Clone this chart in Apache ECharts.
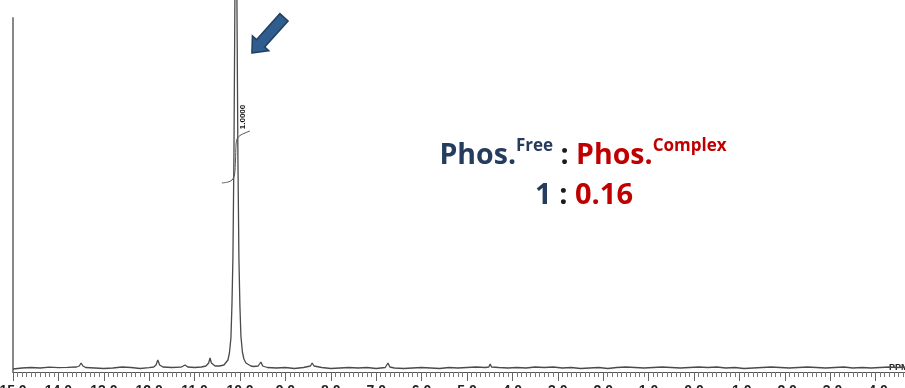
<!DOCTYPE html>
<html>
<head>
<meta charset="utf-8">
<script src="https://cdn.jsdelivr.net/npm/echarts@6/dist/echarts.min.js"></script>
<style>
  html, body { margin: 0; padding: 0; background: #fff; }
  #chart { width: 905px; height: 388px; }
</style>
</head>
<body>
<div id="chart"></div>
<script>
// 31P spectrum: chemical shift (ppm) and intensity (arbitrary units)
const ppmValues = [
  15.0, 14.8, 14.6, 14.4, 14.2, 14.0, 13.8, 13.6, 13.54, 13.50, 13.46, 13.4, 13.2, 13.0,
  12.8, 12.6, 12.4, 12.2, 12.0, 11.9, 11.85, 11.81, 11.77, 11.7, 11.5, 11.3, 11.21, 11.15,
  11.0, 10.85, 10.75, 10.69, 10.66, 10.63, 10.55, 10.45, 10.42,
  10.354, 10.31, 10.266, 10.233, 10.2, 10.178, 10.156, 10.134, 10.112, 10.09,
  10.068, 10.046, 10.024, 10.002, 9.98, 9.947, 9.914, 9.87, 9.826, 9.76,
  9.7, 9.6, 9.54, 9.5, 9.4, 9.2, 9.0, 8.8, 8.6, 8.45, 8.41, 8.37, 8.2, 8.0,
  7.8, 7.6, 7.4, 7.2, 7.0, 6.8, 6.74, 6.7, 6.6, 6.4, 6.2, 6.0, 5.8, 5.6, 5.4, 5.2,
  5.0, 4.8, 4.6, 4.52, 4.49, 4.46, 4.3, 4.1, 3.9, 3.7, 3.5, 3.3, 3.1, 2.9, 2.7, 2.5,
  2.3, 2.1, 1.9, 1.7, 1.5, 1.3, 1.1, 0.9, 0.7, 0.5, 0.3, 0.1, -0.1, -0.3, -0.5, -0.7,
  -0.9, -1.1, -1.3, -1.5, -1.7, -1.9, -2.1, -2.3, -2.5, -2.7, -2.9, -3.1, -3.3, -3.5,
  -3.7, -3.9, -4.1, -4.3, -4.5, -4.7
];
const intensityValues = [
  -1, 0, 0.5, 0, 0.8, 0.3, 0.6, 1, 2, 5, 2, 0.5, 0, -0.5,
  0, 1, 0.5, -0.5, 0.3, 1, 3, 8, 3, 1, 0.5, 0.8, 3, 1,
  0.5, 1, 2, 5, 10, 5, 2, 2, 2,
  3, 5, 8, 15, 30, 62, 110, 210, 370, 460,
  370, 210, 110, 62, 32, 16, 9, 5, 3, 2,
  1.5, 2, 6, 2, 0.5, 0, 0.5, -0.5, 0.5, 2, 5, 2, 0.5, -0.5,
  0, 0.5, 0, 0.5, -0.5, 0.5, 5, 1, 0, -0.5, 0, 0.5, 0, -0.5, 0.5, 0,
  0.5, 1, 0.5, 1, 4, 1, 0.5, 0, 0.5, 0, 1, 0.5, 1, 0, 0.5, -0.5,
  0, 0.5, -0.5, 0.5, 1, 0.5, 0, 0.5, 1, 0.5, 0, 0.5, 1, 0.5, 1, 0,
  0.5, -0.5, 0, 0.5, 1, 0.5, 0, 0.5, 1, 0.5, 0, 0.5, 1, 0,
  0.5, 0, 0.5, 1, 0.5, 1
];

// Integral trace over the main resonance
const integralPpm = [10.40, 10.26, 10.176, 10.121, 10.099, 10.088, 10.066, 10.0, 9.89, 9.78];
const integralValues = [185, 186, 188, 193, 208, 223, 229, 232.5, 235, 237];
const integralLabel = '1.0000';
const peakPpm = 10.09;

const ratioTitle = { free: 'Free', complex: 'Complex', name: 'Phos.' };
const ratioValues = ['1', '0.16'];

const navy = '#253C5F';
const red = '#C00000';

const chart = echarts.init(document.getElementById('chart'), null, { renderer: 'canvas' });

const spectrum = ppmValues.map((p, i) => [p, intensityValues[i]]);
const integral = integralPpm.map((p, i) => [p, integralValues[i]]);

chart.setOption({
  animation: false,
  backgroundColor: '#ffffff',
  grid: { left: 13, top: 18, width: 908, height: 354, containLabel: false, outerBoundsMode: 'none' },
  xAxis: {
    type: 'value',
    inverse: true,
    min: -5,
    max: 15,
    interval: 1,
    axisLine: { show: true, onZero: false, lineStyle: { color: '#555', width: 1 } },
    axisTick: { show: true, length: 9, lineStyle: { color: '#666', width: 1 } },
    minorTick: { show: true, splitNumber: 10, length: 5, lineStyle: { color: '#777', width: 1 } },
    axisLabel: {
      formatter: v => v.toFixed(1),
      fontSize: 14, fontWeight: 'bold', color: '#222', margin: 12,
      fontFamily: 'Liberation Sans'
    },
    splitLine: { show: false }
  },
  yAxis: {
    type: 'value',
    min: -4,
    max: 350,
    axisLine: { show: true, onZero: false, lineStyle: { color: '#888', width: 2 } },
    axisTick: { show: false },
    axisLabel: { show: false },
    splitLine: { show: false }
  },
  series: [
    {
      type: 'line',
      data: spectrum,
      showSymbol: false,
      clip: false,
      lineStyle: { color: '#4a4a4a', width: 1.3 }
    },
    {
      type: 'line',
      data: integral,
      showSymbol: false,
      smooth: 0.3,
      clip: false,
      lineStyle: { color: '#555', width: 1 }
    }
  ]
});

// Annotations placed relative to the main peak
const peakTop = chart.convertToPixel({ gridIndex: 0 }, [peakPpm, 0]);
const labelPos = chart.convertToPixel({ gridIndex: 0 }, [peakPpm - 0.16, 251]);

// Block arrow pointing at the peak
const tip = [peakTop[0] + 16, 53];
const dir = [-0.668, 0.744];
const nrm = [-dir[1], dir[0]];
const shape = [[0, 0], [-13, -11], [-13, -5.5], [-48, -5.5], [-48, 5.5], [-13, 5.5], [-13, 11]];
const arrowPts = shape.map(([a, b]) => [
  tip[0] + a * dir[0] + b * nrm[0],
  tip[1] + a * dir[1] + b * nrm[1]
]);

chart.setOption({
  graphic: [
    {
      type: 'polygon',
      shape: { points: arrowPts },
      style: { fill: '#2F5D8E', stroke: '#1F3E63', lineWidth: 1.5 }
    },
    {
      type: 'text',
      x: labelPos[0],
      y: labelPos[1],
      rotation: Math.PI / 2,
      style: {
        text: integralLabel,
        fontSize: 8, fontWeight: 'bold', fill: '#111',
        fontFamily: 'Liberation Sans',
        align: 'center', verticalAlign: 'middle'
      }
    },
    {
      type: 'text',
      x: 889, y: 372,
      style: {
        text: 'PPM', fontSize: 9, fontWeight: 'bold', fill: '#222',
        fontFamily: 'Liberation Sans', align: 'left', verticalAlign: 'bottom'
      }
    },
    {
      type: 'text',
      x: 583, y: 156,
      style: {
        text: '{p|' + ratioTitle.name + '}{ps|' + ratioTitle.free + '}{c| : }{r|' + ratioTitle.name + '}{rs|' + ratioTitle.complex + '}',
        align: 'center', verticalAlign: 'middle',
        rich: {
          p: { fontSize: 28.5, fontWeight: 'bold', fill: navy, fontFamily: 'Open Sans', lineHeight: 36 },
          ps: { fontSize: 17, fontWeight: 'bold', fill: navy, fontFamily: 'Open Sans', lineHeight: 36, verticalAlign: 'top', padding: [0, 0, 10, 0] },
          c: { fontSize: 28.5, fontWeight: 'bold', fill: '#1a1a1a', fontFamily: 'Open Sans', lineHeight: 36 },
          r: { fontSize: 28.5, fontWeight: 'bold', fill: red, fontFamily: 'Open Sans', lineHeight: 36 },
          rs: { fontSize: 17, fontWeight: 'bold', fill: red, fontFamily: 'Open Sans', lineHeight: 36, verticalAlign: 'top', padding: [0, 0, 10, 0] }
        }
      }
    },
    {
      type: 'text',
      x: 584, y: 196,
      style: {
        text: '{p|' + ratioValues[0] + '}{c| : }{r|' + ratioValues[1] + '}',
        align: 'center', verticalAlign: 'middle',
        rich: {
          p: { fontSize: 29, fontWeight: 'bold', fill: navy, fontFamily: 'Open Sans' },
          c: { fontSize: 29, fontWeight: 'bold', fill: '#1a1a1a', fontFamily: 'Open Sans' },
          r: { fontSize: 29, fontWeight: 'bold', fill: red, fontFamily: 'Open Sans' }
        }
      }
    }
  ]
});
</script>
</body>
</html>
